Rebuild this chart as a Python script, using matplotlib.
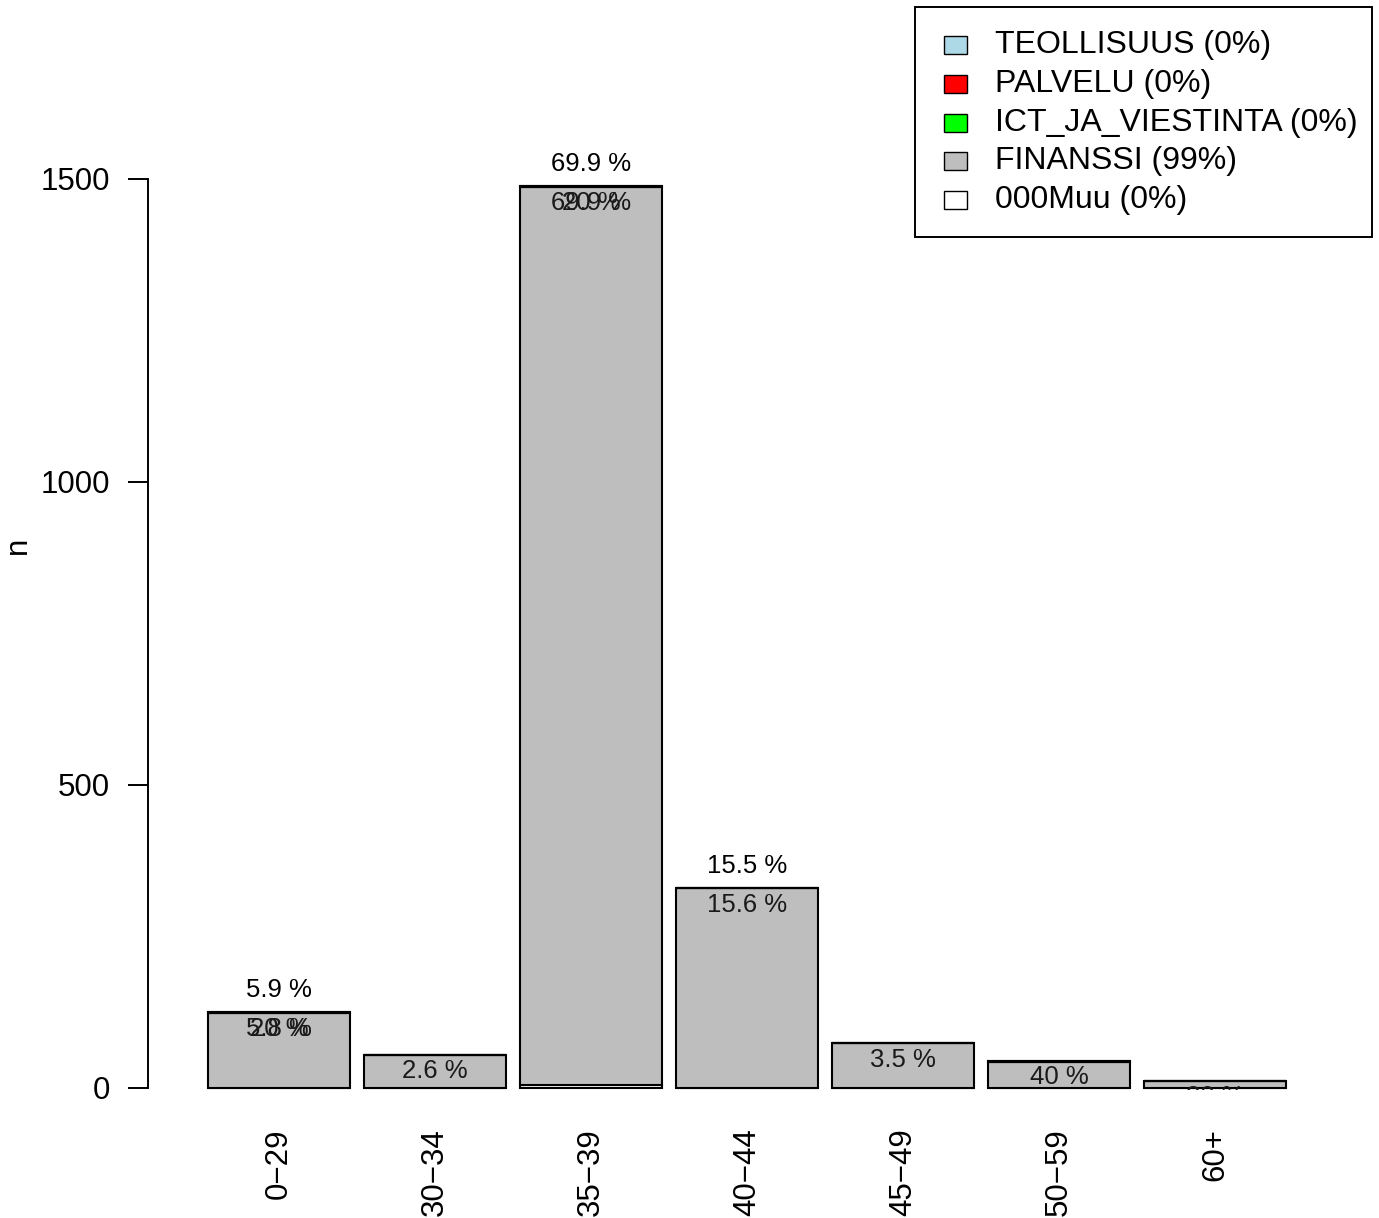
import matplotlib
matplotlib.use("Agg")
import matplotlib.pyplot as plt
from matplotlib.patches import Rectangle
import numpy as np

plt.rcParams['font.family'] = ['Liberation Sans', 'DejaVu Sans']

# ---- data ----
categories = ['0\u221229', '30\u221234', '35\u221239', '40\u221244', '45\u221249', '50\u221259', '60+']
muu = [0, 0, 5, 0, 0, 0, 0]
finanssi = [124, 55, 1482, 330, 74, 43, 11]
ict = [0, 0, 0, 0, 0, 0, 0]
palvelu = [1, 0, 1, 0, 0, 2, 1]
teollisuus = [0, 0, 0, 0, 0, 0, 0]

series_names = ['000Muu', 'FINANSSI', 'ICT_JA_VIESTINTA', 'PALVELU', 'TEOLLISUUS']
series_colors = ['white', '#BEBEBE', '#00FF00', '#FF0000', '#ADD8E6']
legend_pcts = ['0%', '99%', '0%', '0%', '0%']

top_labels = ['5.9 %', '', '69.9 %', '15.5 %', '', '', '']
inner_labels = [['5.8 %', '20 %'], ['2.6 %'], ['69.9 %', '20 %'], ['15.6 %'],
                ['3.5 %'], ['40 %'], ['20 %']]
yticks = [0, 500, 1000, 1500]

# ---- figure ----
W, H = 1379, 1218
fig = plt.figure(figsize=(W / 100, H / 100), dpi=100)
ax_left_px, ax_right_px = 148, 1329
ax_bottom_px, ax_top_px = 1090.4, 118.4
ax = fig.add_axes([ax_left_px / W, (H - ax_bottom_px) / H,
                   (ax_right_px - ax_left_px) / W, (ax_bottom_px - ax_top_px) / H])

width = 1.0
space = 0.1
x_left = np.array([space + i * (width + space) for i in range(len(categories))])
centers = x_left + width / 2

data = [muu, finanssi, ict, palvelu, teollisuus]
bottom = np.zeros(len(categories))
for vals, col in zip(data, series_colors):
    vals = np.array(vals, dtype=float)
    ax.bar(x_left, vals, width=width, bottom=bottom, align='edge',
           color=col, edgecolor='black', linewidth=1.5)
    bottom += vals
totals = bottom

ax.set_xlim(-0.3231, 8.003)
ax.set_ylim(-4, 1600)

for c, t, lab in zip(centers, totals, top_labels):
    if lab:
        ax.annotate(lab, (c, t), xytext=(0, 16), textcoords='offset points',
                    ha='center', va='center', fontsize=18.5, color='black')
for c, t, labs in zip(centers, totals, inner_labels):
    for lab in labs:
        ax.annotate(lab, (c, t), xytext=(0, -12.0), textcoords='offset points',
                    ha='center', va='center', fontsize=18.5, color='#1a1a1a',
                    annotation_clip=False, clip_on=True)

for s in ['top', 'right', 'bottom']:
    ax.spines[s].set_visible(False)
ax.spines['left'].set_bounds(0, 1500)
ax.spines['left'].set_linewidth(1.4)
ax.set_yticks(yticks)
ax.set_yticklabels([str(v) for v in yticks])
ax.tick_params(axis='y', length=14.4, width=1.4, pad=13, labelsize=22.5)
ax.set_xticks(centers)
ax.set_xticklabels(categories, rotation=90)
ax.tick_params(axis='x', length=0, pad=27.5, labelsize=22.5)

fig.text(18 / W, 1 - 545 / H, 'n', rotation=90, fontsize=22.5, ha='center', va='center')

# ---- legend (drawn in figure pixel space) ----
def fx(px):
    return px / W

def fy(py):
    return 1 - py / H

box = Rectangle((fx(915), fy(237)), fx(1372) - fx(915), fy(7) - fy(237),
                transform=fig.transFigure, facecolor='white', edgecolor='black',
                linewidth=1.4, zorder=5)
fig.patches.append(box)
row_y = [45, 84, 123, 161, 200]
for i, (name, col, pct) in enumerate(zip(series_names[::-1], series_colors[::-1], legend_pcts[::-1])):
    yc = row_y[i]
    sq = Rectangle((fx(944), fy(yc + 9)), fx(967) - fx(944), fy(yc - 9) - fy(yc + 9),
                   transform=fig.transFigure, facecolor=col, edgecolor='black',
                   linewidth=1.0, zorder=6)
    fig.patches.append(sq)
    fig.text(fx(995), fy(yc), f'{name} ({pct})', fontsize=23, ha='left',
             va='center', zorder=7)

fig.savefig('out.png', dpi=100)
